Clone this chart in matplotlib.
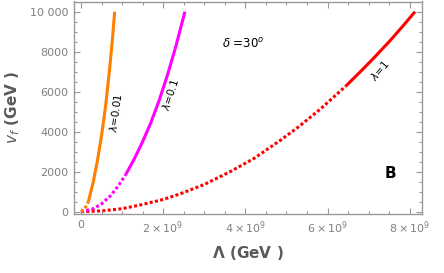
import matplotlib
matplotlib.use("Agg")
import matplotlib.pyplot as plt
from matplotlib.ticker import MultipleLocator, FixedLocator

# ---- data (Lambda in units of 1e9 GeV, v_f in GeV) ----
red_dot_L = [0, 0.5, 1.0, 1.43, 2.0, 2.41, 3.0, 3.63, 4.2, 4.84, 5.3, 5.82, 6.44]
red_dot_v = [0, 40, 150, 330, 610, 890, 1360, 2000, 2650, 3550, 4250, 5120, 6270]
red_sol_L = [6.44, 6.8, 7.11, 7.5, 7.8, 8.13]
red_sol_v = [6270, 7000, 7650, 8500, 9200, 10000]

mag_dot_L = [0, 0.3, 0.5, 0.72, 0.9, 1.09]
mag_dot_v = [0, 150, 390, 800, 1270, 1860]
mag_sol_L = [1.09, 1.3, 1.5, 1.7, 1.9, 2.1, 2.3, 2.53]
mag_sol_v = [1860, 2650, 3500, 4450, 5550, 6800, 8200, 10000]

ora_dot_L = [0, 0.08, 0.18]
ora_dot_v = [0, 100, 500]
ora_sol_L = [0.18, 0.3, 0.4, 0.5, 0.6, 0.7, 0.76, 0.82]
ora_sol_v = [500, 1500, 2550, 3800, 5300, 7200, 8500, 10000]

xticks = [0, 2, 4, 6, 8]
xticklabels = ["0", r"$2\times10^{9}$", r"$4\times10^{9}$", r"$6\times10^{9}$", r"$8\times10^{9}$"]
yticks = [0, 2000, 4000, 6000, 8000, 10000]
yticklabels = ["0", "2000", "4000", "6000", "8000", "10 000"]

ORANGE = "#FF7F00"
MAGENTA = "#FF00FF"
RED = "#FF0000"
GRAY = "#999999"
TICKLAB = "#808080"
LABC = "#5a5a5a"

plt.rcParams["mathtext.fontset"] = "dejavusans"
fig = plt.figure(figsize=(4.44, 2.73), dpi=100)
ax = fig.add_axes([74/444, 1-214/273, (422-74)/444, (214-1.5)/273])

lw = 2.2
dot = (0, (1.0, 0.75))
ax.plot(red_dot_L, red_dot_v, color=RED, lw=lw, linestyle=dot, dash_capstyle="butt")
ax.plot(red_sol_L, red_sol_v, color=RED, lw=lw, solid_capstyle="butt")
ax.plot(mag_dot_L, mag_dot_v, color=MAGENTA, lw=lw, linestyle=dot, dash_capstyle="butt")
ax.plot(mag_sol_L, mag_sol_v, color=MAGENTA, lw=lw, solid_capstyle="butt")
ax.plot(ora_dot_L, ora_dot_v, color=ORANGE, lw=lw, linestyle=dot, dash_capstyle="butt")
ax.plot(ora_sol_L, ora_sol_v, color=ORANGE, lw=lw, solid_capstyle="butt")

ax.set_xlim(-0.17, 8.30)
ax.set_ylim(-115, 10510)

ax.xaxis.set_major_locator(FixedLocator(xticks))
ax.set_xticklabels(xticklabels)
ax.xaxis.set_minor_locator(MultipleLocator(0.5))
ax.yaxis.set_major_locator(FixedLocator(yticks))
ax.set_yticklabels(yticklabels)
ax.yaxis.set_minor_locator(MultipleLocator(500))

ax.tick_params(which="both", direction="in", top=True, right=True, color=GRAY,
               labelcolor=TICKLAB, labelsize=8, width=0.8)
ax.tick_params(which="major", length=4, pad=4)
ax.tick_params(which="minor", length=2.2)
for s in ax.spines.values():
    s.set_color(GRAY)
    s.set_linewidth(1.0)

ax.set_xlabel(r"$\mathbf{\Lambda}$ (GeV )", color=LABC, fontsize=11, fontweight="bold", labelpad=6)
ax.set_ylabel(r"$\mathbf{\it{v}_{\it{f}}}$ (GeV )",
              color=LABC, fontsize=11, fontweight="bold", labelpad=6)

ax.text(3.94, 8385, r"$\delta$ =30$^{o}$", fontsize=8.5, ha="center", va="center")
ax.text(0.84, 4935, r"$\lambda$=0.01", fontsize=7.5, ha="center", va="center", rotation=82)
ax.text(2.18, 5835, r"$\lambda$=0.1", fontsize=7.5, ha="center", va="center", rotation=72)
ax.text(7.27, 7085, r"$\lambda$=1", fontsize=7.5, ha="center", va="center", rotation=50)
ax.text(7.54, 1935, "B", fontsize=11, fontweight="bold", ha="center", va="center")

fig.savefig("out.png", dpi=100)
